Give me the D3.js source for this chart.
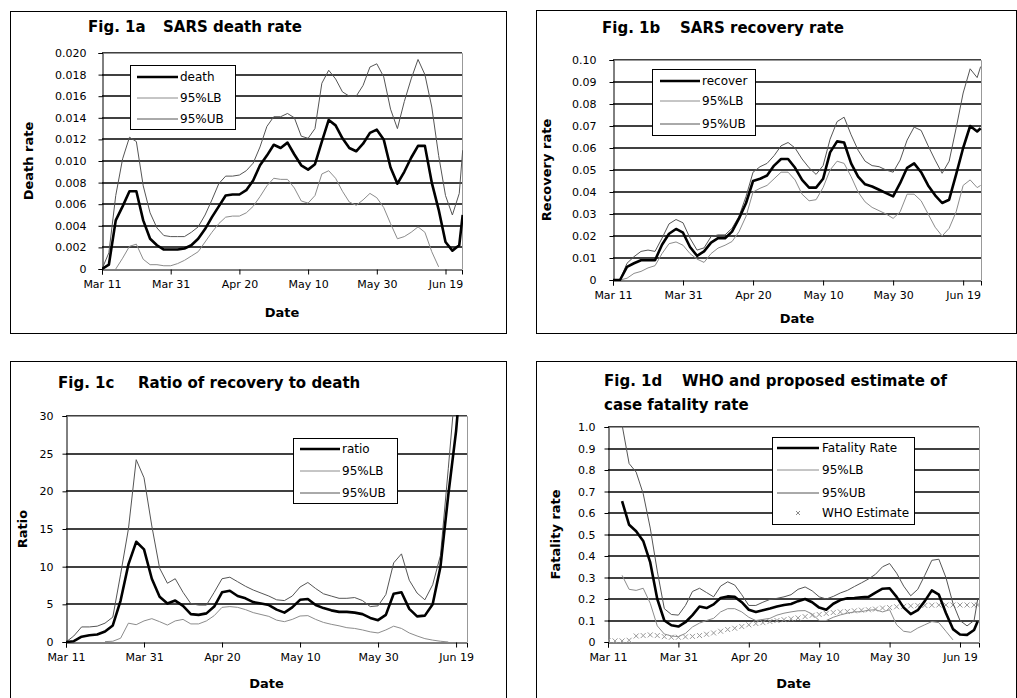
<!DOCTYPE html>
<html><head><meta charset="utf-8">
<script src="https://cdn.jsdelivr.net/npm/d3@7"></script>
<style>
body{margin:0;background:#fff}
svg{display:block}
text{font-family:"DejaVu Sans",Verdana,sans-serif;fill:#000}
</style>
</head><body>
<svg id="c" width="1017" height="698"></svg>
<script>
// ---------- categories ----------
const DAYS = [...d3.range(0, 105, 2), 105];        // day index from Mar 11
const dateTickDays = [0, 20, 40, 60, 80, 100];
const dateLabels = ["Mar 11", "Mar 31", "Apr 20", "May 10", "May 30", "Jun 19"];

// ---------- Fig 1a : SARS death rate ----------
const yTicksA = ["0","0.002","0.004","0.006","0.008","0.010","0.012","0.014","0.016","0.018","0.020"];
const deathRate = [
 0, 0.0004, 0.0045, 0.0058, 0.0072, 0.0072, 0.0045, 0.0028, 0.0022, 0.0018,
 0.0018, 0.0018, 0.0019, 0.0022, 0.0028, 0.0037, 0.0048, 0.0058, 0.0068, 0.0069,
 0.0069, 0.0073, 0.0082, 0.0096, 0.0105, 0.0115, 0.0112, 0.0117, 0.0106, 0.0096,
 0.0092, 0.0097, 0.0118, 0.0138, 0.0133, 0.0121, 0.0112, 0.0109, 0.0116, 0.0126,
 0.0129, 0.0120, 0.0094, 0.0079, 0.0090, 0.0103, 0.0114, 0.0114, 0.0080, 0.0055,
 0.0025, 0.0017, 0.0022, 0.0050];
const deathLB = [
 null, null, 0.0000, 0.0010, 0.0021, 0.0023, 0.0009, 0.0004, 0.0004, 0.0003,
 0.0003, 0.0005, 0.0008, 0.0012, 0.0016, 0.0025, 0.0034, 0.0042, 0.0048, 0.0049,
 0.0049, 0.0052, 0.0058, 0.0067, 0.0077, 0.0084, 0.0083, 0.0083, 0.0075, 0.0063,
 0.0061, 0.0068, 0.0088, 0.0091, 0.0084, 0.0072, 0.0062, 0.0059, 0.0064, 0.0070,
 0.0066, 0.0057, 0.0042, 0.0028, 0.0030, 0.0034, 0.0039, 0.0034, 0.0016, 0.0002,
 null, null, null, null];
const deathUB = [
 0, 0.0015, 0.0068, 0.0102, 0.0122, 0.0118, 0.0077, 0.0052, 0.0038, 0.0031,
 0.0030, 0.0030, 0.0030, 0.0034, 0.0039, 0.0050, 0.0064, 0.0079, 0.0086, 0.0086,
 0.0087, 0.0091, 0.0098, 0.0113, 0.0132, 0.0141, 0.0141, 0.0144, 0.0140, 0.0123,
 0.0121, 0.0130, 0.0172, 0.0184, 0.0176, 0.0164, 0.0160, 0.0160, 0.0170, 0.0187,
 0.0190, 0.0178, 0.0148, 0.0130, 0.0155, 0.0176, 0.0194, 0.0180, 0.0150, 0.0105,
 0.0068, 0.0050, 0.0070, 0.0110];

// ---------- Fig 1b : SARS recovery rate ----------
const yTicksB = ["0","0.01","0.02","0.03","0.04","0.05","0.06","0.07","0.08","0.09","0.10"];
const recoverRate = [
 0, 0, 0.006, 0.0076, 0.009, 0.009, 0.009, 0.016, 0.021, 0.0232,
 0.0215, 0.015, 0.011, 0.013, 0.017, 0.019, 0.019, 0.022, 0.028, 0.035,
 0.045, 0.046, 0.0475, 0.052, 0.055, 0.055, 0.051, 0.0455, 0.042, 0.042,
 0.046, 0.058, 0.063, 0.0625, 0.053, 0.047, 0.0435, 0.0425, 0.041, 0.0395,
 0.038, 0.044, 0.051, 0.053, 0.049, 0.043, 0.0385, 0.035, 0.0365, 0.048,
 0.060, 0.070, 0.0675, 0.069];
const recoverLB = [
 0, 0, 0.0008, 0.003, 0.0039, 0.0055, 0.0065, 0.012, 0.0165, 0.0173,
 0.0158, 0.012, 0.0095, 0.008, 0.012, 0.0145, 0.0158, 0.0175, 0.022, 0.029,
 0.040, 0.0417, 0.043, 0.046, 0.049, 0.049, 0.0455, 0.039, 0.036, 0.0365,
 0.042, 0.050, 0.054, 0.053, 0.047, 0.040, 0.0355, 0.033, 0.0315, 0.030,
 0.028, 0.031, 0.039, 0.039, 0.036, 0.030, 0.024, 0.020, 0.0235, 0.031,
 0.043, 0.0455, 0.042, 0.043];
const recoverUB = [
 0, 0, 0.0076, 0.0106, 0.013, 0.0136, 0.013, 0.019, 0.0255, 0.0275,
 0.026, 0.019, 0.0136, 0.0146, 0.0197, 0.0205, 0.0205, 0.0235, 0.029, 0.038,
 0.049, 0.0515, 0.053, 0.0565, 0.061, 0.0625, 0.060, 0.055, 0.051, 0.048,
 0.052, 0.064, 0.072, 0.074, 0.066, 0.059, 0.054, 0.052, 0.0515, 0.050,
 0.049, 0.0545, 0.0636, 0.0695, 0.068, 0.061, 0.0545, 0.0485, 0.054, 0.069,
 0.085, 0.096, 0.092, 0.097];

// ---------- Fig 1c : ratio of recovery to death ----------
const yTicksC = ["0","5","10","15","20","25","30"];
const ratio = [
 0, 0.1, 0.7, 0.9, 1.0, 1.4, 2.2, 5.5, 10.3, 13.3,
 12.3, 8.4, 6.0, 5.1, 5.5, 4.8, 3.7, 3.6, 3.8, 4.7,
 6.6, 6.8, 6.1, 5.8, 5.3, 5.1, 4.9, 4.3, 3.9, 4.6,
 5.6, 5.7, 4.9, 4.5, 4.2, 4.0, 4.0, 3.9, 3.7, 3.2,
 2.9, 3.6, 6.4, 6.6, 4.4, 3.4, 3.5, 5.0, 10.0, 19.5,
 28, 40, 45, 48];
const ratioLB = [
 null, null, null, null, null, 0.05, 0.1, 0.5, 2.5, 2.3,
 2.8, 3.1, 2.7, 2.25, 2.8, 3.0, 2.4, 2.4, 2.8, 3.5,
 4.6, 4.7, 4.6, 4.3, 3.9, 3.65, 3.4, 2.9, 2.7, 3.0,
 3.45, 3.5, 3.0, 2.6, 2.35, 2.15, 1.9, 1.8, 1.6, 1.35,
 1.2, 1.6, 2.1, 1.8, 1.2, 0.8, 0.45, 0.25, 0.1, 0.0,
 null, null, null, null];
const ratioUB = [
 0, 0.8, 2.0, 2.0, 2.1, 2.5, 3.3, 9.0, 15.0, 24.2,
 21.8, 15.4, 9.8, 7.8, 8.4, 6.6, 5.1, 4.9, 4.9, 6.6,
 8.4, 8.6, 8.0, 7.4, 6.9, 6.5, 6.1, 5.6, 5.5, 6.1,
 7.3, 7.9, 7.1, 6.4, 6.1, 5.8, 5.8, 5.9, 5.5, 4.7,
 4.8, 6.3, 10.5, 11.7, 8.2, 6.5, 5.6, 7.6, 11.5, 23,
 35, 50, 60, 65];

// ---------- Fig 1d : case fatality rate ----------
const yTicksD = ["0","0.1","0.2","0.3","0.4","0.5","0.6","0.7","0.8","0.9","1.0"];
const fatality = [
 null, null, 0.655, 0.545, 0.515, 0.47, 0.37, 0.2, 0.1, 0.078,
 0.072, 0.092, 0.125, 0.165, 0.158, 0.175, 0.205, 0.212, 0.21, 0.185,
 0.15, 0.14, 0.148, 0.156, 0.165, 0.172, 0.177, 0.19, 0.2, 0.185,
 0.16, 0.15, 0.178, 0.195, 0.203, 0.205, 0.208, 0.21, 0.23, 0.248,
 0.25, 0.21, 0.16, 0.13, 0.148, 0.19, 0.24, 0.22, 0.135, 0.06,
 0.035, 0.033, 0.056, 0.095];
const fatalityLB = [
 null, null, 0.31, 0.245, 0.24, 0.25, 0.18, 0.075, 0.037, 0.028,
 0.025, 0.04, 0.07, 0.088, 0.1, 0.11, 0.14, 0.155, 0.155, 0.14,
 0.115, 0.1, 0.105, 0.11, 0.125, 0.134, 0.14, 0.145, 0.146, 0.13,
 0.1, 0.1, 0.115, 0.126, 0.134, 0.14, 0.141, 0.148, 0.15, 0.14,
 0.15, 0.08, 0.05, 0.045, 0.065, 0.08, 0.095, 0.09, 0.05, 0.01,
 null, null, null, null];
const fatalityUB = [
 null, null, 1.01, 0.83, 0.79, 0.69, 0.53, 0.33, 0.155, 0.128,
 0.125, 0.17, 0.235, 0.25, 0.23, 0.21, 0.26, 0.28, 0.265, 0.22,
 0.17, 0.17, 0.185, 0.198, 0.203, 0.21, 0.22, 0.245, 0.256, 0.238,
 0.21, 0.2, 0.212, 0.228, 0.24, 0.258, 0.275, 0.293, 0.315, 0.35,
 0.365, 0.32, 0.26, 0.215, 0.245, 0.31, 0.38, 0.385, 0.3, 0.18,
 0.1, 0.075, 0.1, 0.196];
const whoEstimate = [
 0.005, 0.005, 0.005, 0.008, 0.028, 0.03, 0.033, 0.03, 0.025, 0.022,
 0.022, 0.024, 0.026, 0.03, 0.036, 0.042, 0.05, 0.058, 0.064, 0.072,
 0.08, 0.086, 0.09, 0.095, 0.1, 0.104, 0.108, 0.112, 0.118, 0.124,
 0.128, 0.133, 0.137, 0.14, 0.142, 0.145, 0.148, 0.15, 0.153, 0.158,
 0.16, 0.164, 0.166, 0.168, 0.17, 0.17, 0.171, 0.172, 0.172, 0.172,
 0.172, 0.172, 0.172, 0.172];

// ---------- layout / style (not data) ----------
const C_MAIN = "#000", C_LB = "#8c8c8c", C_UB = "#555";
const panels = [
 { frame:[10,11,506,333], plot:[102,53,462,269], xMax:104.8, yTicks:yTicksA,
   title:[["Fig. 1a",88,32],["SARS death rate",163,32]], yTitle:["Death rate",28], dateY:317, labGap:16,
   series:[{v:deathLB,c:C_LB,w:1},{v:deathUB,c:C_UB,w:1},{v:deathRate,c:C_MAIN,w:2.6}],
   legend:{box:[130,65,235,129], rows:[77,98,119], lx:[137,178], tx:180,
     items:[["death",C_MAIN,2.6],["95%LB",C_LB,1],["95%UB",C_UB,1]]} },
 { frame:[536,10,1016,333], plot:[613,60,981,280], xMax:105.1, yTicks:yTicksB,
   title:[["Fig. 1b",602,33],["SARS recovery rate",680,33]], yTitle:["Recovery rate",546], dateY:323, labGap:17,
   series:[{v:recoverLB,c:C_LB,w:1},{v:recoverUB,c:C_UB,w:1},{v:recoverRate,c:C_MAIN,w:2.6}],
   legend:{box:[652,69,755,135], rows:[81,101,124], lx:[660,700], tx:702,
     items:[["recover",C_MAIN,2.6],["95%LB",C_LB,1],["95%UB",C_UB,1]]} },
 { frame:[10,361,506,720], plot:[66,416,467,642], xMax:102.8, yTicks:yTicksC,
   title:[["Fig. 1c",58,388],["Ratio of recovery to death",138,388]], yTitle:["Ratio",22], dateY:688, labGap:13,
   series:[{v:ratioLB,c:C_LB,w:1},{v:ratioUB,c:C_UB,w:1},{v:ratio,c:C_MAIN,w:2.6}],
   legend:{box:[293,438,397,503], rows:[449,471,493], lx:[300,340], tx:342,
     items:[["ratio",C_MAIN,2.6],["95%LB",C_LB,1],["95%UB",C_UB,1]]} },
 { frame:[536,361,1016,720], plot:[608,427,979,642], xMax:105.4, yTicks:yTicksD,
   title:[["Fig. 1d",604,386],["WHO and proposed estimate of",682,386],["case fatality rate",604,410]],
   yTitle:["Fatality rate",555], dateY:688, labGap:13,
   series:[{v:fatalityLB,c:C_LB,w:1},{v:fatalityUB,c:C_UB,w:1},{v:fatality,c:C_MAIN,w:2.6}],
   markers:{v:whoEstimate,c:"#999"},
   legend:{box:[772,437,914,524], rows:[448,470,493,513], lx:[777,819], tx:822,
     items:[["Fatality Rate",C_MAIN,2.6],["95%LB",C_LB,1],["95%UB",C_UB,1],["WHO Estimate",null,0]]} }
];

const svg = d3.select("#c");
svg.append("rect").attr("width",1017).attr("height",698).attr("fill","#fff");

panels.forEach((p, pi) => {
  const [fx0,fy0,fx1,fy1] = p.frame;
  svg.append("rect").attr("x",fx0+0.5).attr("y",fy0+0.5).attr("width",fx1-fx0).attr("height",fy1-fy0)
     .attr("fill","#fff").attr("stroke","#000").attr("stroke-width",1);

  const [px0,py0,px1,py1] = p.plot;
  const yVals = p.yTicks.map(Number);
  const x = d3.scaleLinear().domain([0,p.xMax]).range([px0,px1]);
  const y = d3.scaleLinear().domain([0,d3.max(yVals)]).range([py1,py0]);
  const g = svg.append("g");

  // titles
  p.title.forEach(([t,tx,ty]) => g.append("text").attr("x",tx).attr("y",ty)
     .attr("font-size",15).attr("font-weight","bold").text(t));

  // gridlines
  g.append("g").selectAll("line").data(yVals.slice(1)).join("line")
    .attr("x1",px0).attr("x2",px1).attr("y1",d=>Math.round(y(d))).attr("y2",d=>Math.round(y(d)))
    .attr("stroke","#000").attr("stroke-width",1.5);
  // plot border top/right
  g.append("path").attr("d",`M${px0},${py0+0.5}H${px1+0.5}V${py1}`).attr("fill","none").attr("stroke","#999");

  // y axis
  const yAx = d3.axisLeft(y).tickValues(yVals).tickFormat((d,i)=>p.yTicks[i]).tickSize(4).tickPadding(p.labGap-4);
  const ya = g.append("g").attr("transform",`translate(${px0+0.5},0)`).call(yAx);
  // x axis
  const xAx = d3.axisBottom(x).tickValues(dateTickDays).tickFormat((d,i)=>dateLabels[i]).tickSize(5).tickPadding(6);
  const xa = g.append("g").attr("transform",`translate(0,${py1+0.5})`).call(xAx);
  [ya,xa].forEach(a=>{
    a.select(".domain").attr("stroke","#000");
    a.selectAll(".tick line").attr("stroke","#000");
    a.selectAll("text").attr("font-size",11).attr("font-family","'DejaVu Sans',sans-serif").attr("fill","#000");
  });

  // axis titles
  g.append("text").attr("transform",`translate(${p.yTitle[1]},${(py0+py1)/2}) rotate(-90)`)
   .attr("text-anchor","middle").attr("dy","0.35em").attr("font-size",13).attr("font-weight","bold").text(p.yTitle[0]);
  g.append("text").attr("x",(px0+px1)/2).attr("y",p.dateY).attr("text-anchor","middle")
   .attr("font-size",13).attr("font-weight","bold").text("Date");

  // clip
  const cid = "clip"+pi;
  svg.append("clipPath").attr("id",cid).append("rect").attr("x",px0).attr("y",py0-1).attr("width",px1-px0+1).attr("height",py1-py0+2);
  const lg = g.append("g").attr("clip-path",`url(#${cid})`);

  if (p.markers) {
    const pts = DAYS.map((d,i)=>[d,p.markers.v[i]]).filter(d=>d[1]!=null);
    lg.append("g").selectAll("path").data(pts).join("path")
      .attr("d",d=>{const cx=x(d[0]),cy=y(d[1]),s=2.5;return `M${cx-s},${cy-s}L${cx+s},${cy+s}M${cx-s},${cy+s}L${cx+s},${cy-s}`;})
      .attr("stroke",p.markers.c).attr("stroke-width",1).attr("fill","none");
  }
  const line = d3.line().defined(d=>d[1]!=null).x(d=>x(d[0])).y(d=>y(d[1]));
  p.series.forEach(s=>{
    lg.append("path").datum(DAYS.map((d,i)=>[d,s.v[i]]))
      .attr("d",line).attr("fill","none").attr("stroke",s.c).attr("stroke-width",s.w)
      .attr("stroke-linejoin","round");
  });

  // legend
  const L = p.legend;
  const [lx0,ly0,lx1,ly1] = L.box;
  g.append("rect").attr("x",lx0+0.5).attr("y",ly0+0.5).attr("width",lx1-lx0).attr("height",ly1-ly0)
   .attr("fill","#fff").attr("stroke","#000");
  L.items.forEach((it,i)=>{
    const ry = L.rows[i];
    if (it[1]) {
      g.append("line").attr("x1",L.lx[0]).attr("x2",L.lx[1]).attr("y1",ry).attr("y2",ry)
       .attr("stroke",it[1]).attr("stroke-width",it[2]);
    } else {
      const cx=(L.lx[0]+L.lx[1])/2, s=2;
      g.append("path").attr("d",`M${cx-s},${ry-s}L${cx+s},${ry+s}M${cx-s},${ry+s}L${cx+s},${ry-s}`)
       .attr("stroke","#8a8a8a").attr("fill","none");
    }
    g.append("text").attr("x",L.tx).attr("y",ry).attr("dy","0.35em").attr("font-size",12).text(it[0]);
  });
});
</script>
</body></html>
